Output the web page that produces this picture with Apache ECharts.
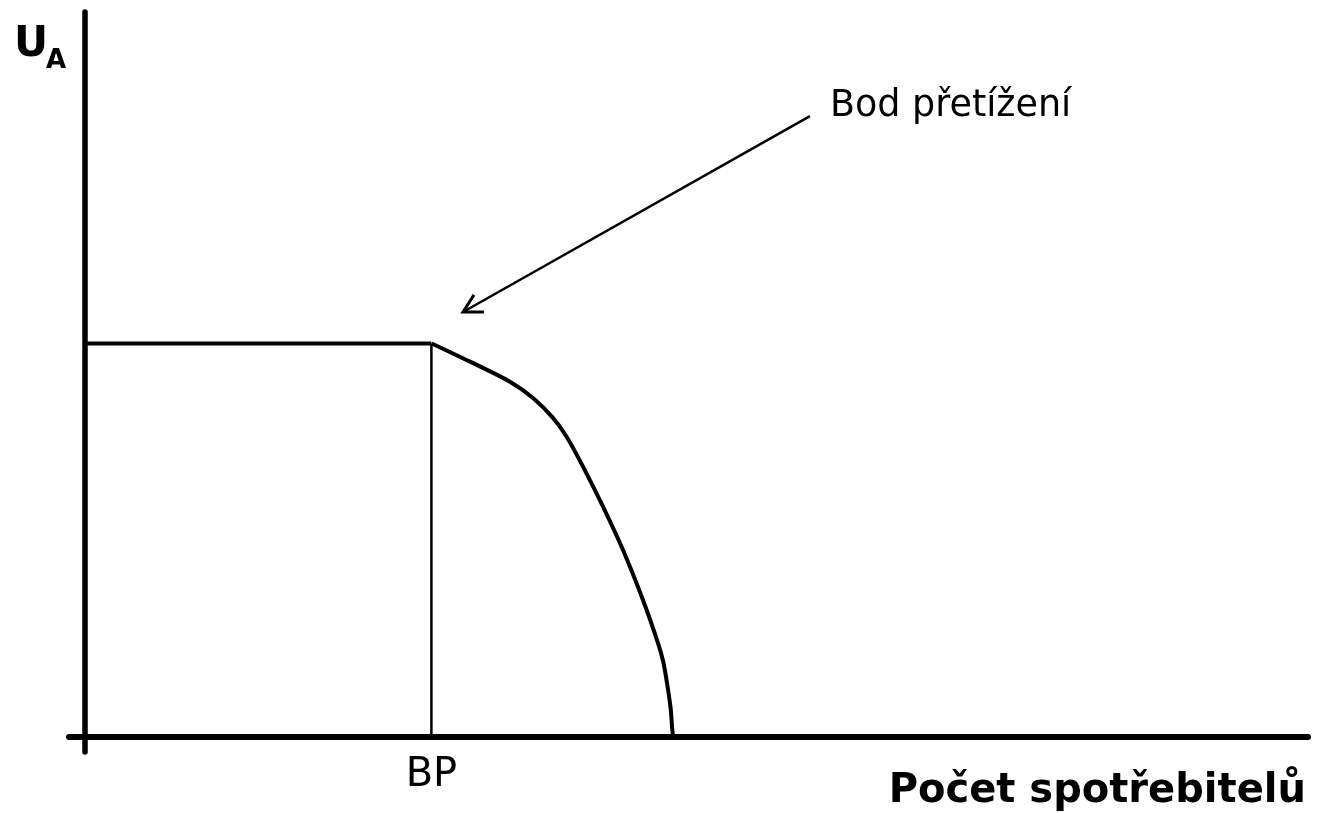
<!DOCTYPE html>
<html>
<head>
<meta charset="utf-8">
<script src="https://cdn.jsdelivr.net/npm/echarts@6/dist/echarts.min.js"></script>
<style>
  html, body { margin: 0; padding: 0; background: #fff; }
  #chart { width: 1318px; height: 813px; }
</style>
</head>
<body>
<div id="chart"></div>
<script>
// utility stays flat until the overload point (BP), then falls off
const bpX = 22.4
const plateauY = 25.5
const plateau = [[0, plateauY], [bpX, plateauY]]
const bpLine = [[bpX, 0], [bpX, plateauY]]
const curveX = [22.42, 24.89, 27.47, 28.96, 30.25, 31.13, 32.19, 33.48, 34.77, 36.06, 37.03, 37.36, 37.64, 37.85, 37.94, 38.0]
const curveY = [25.5, 24.32, 23.02, 21.96, 20.67, 19.45, 17.51, 14.91, 12.1, 8.86, 6.07, 4.9, 3.3, 1.8, 0.6, 0]
const arrowShaft = [[24.44, 27.54], [46.84, 40.25]]
const arrowHead = [[25.15, 28.65], [24.44, 27.54], [25.79, 27.54]]
const bpLabel = [[bpX, 0, 'BP']]
const overloadLabel = [[46.84, 40.25, 'Bod přetížení']]

const font = 'DejaVu Sans'
const chart = echarts.init(document.getElementById('chart'))

const lineBase = {
  type: 'line',
  symbol: 'none',
  silent: true,
  z: 3,
}

const labelBase = {
  type: 'scatter',
  symbolSize: 0,
  silent: true,
  itemStyle: { opacity: 1 },
  z: 4,
}

chart.setOption({
  animation: false,
  grid: { left: 69, right: 10, top: 12, bottom: 61 },
  xAxis: {
    type: 'value',
    min: -1,
    max: 79,
    axisLine: { onZero: true, lineStyle: { color: '#000', width: 6 } },
    axisTick: { show: false },
    axisLabel: { show: false },
    splitLine: { show: false },
  },
  yAxis: {
    type: 'value',
    min: -1,
    max: 47,
    axisLine: { onZero: true, lineStyle: { color: '#000', width: 5.5 } },
    axisTick: { show: false },
    axisLabel: { show: false },
    splitLine: { show: false },
  },
  graphic: [
    {
      type: 'text',
      left: 14,
      top: 24,
      style: { text: 'U', font: `bold 42px "${font}"`, fill: '#000' },
    },
    {
      type: 'text',
      left: 46,
      top: 48,
      style: { text: 'A', font: `bold 26px "${font}"`, fill: '#000' },
    },
    {
      type: 'text',
      right: 12,
      top: 772,
      style: { text: 'Počet spotřebitelů', font: `bold 40px "${font}"`, fill: '#000' },
    },
  ],
  series: [
    { ...lineBase, data: plateau, lineStyle: { color: '#000', width: 4 } },
    { ...lineBase, data: bpLine, lineStyle: { color: '#000', width: 2.5 } },
    {
      ...lineBase,
      data: curveX.map((x, i) => [x, curveY[i]]),
      smooth: 0.3,
      lineStyle: { color: '#000', width: 4 },
    },
    { ...lineBase, data: arrowShaft, lineStyle: { color: '#000', width: 2.5 } },
    { ...lineBase, data: arrowHead, lineStyle: { color: '#000', width: 3, join: 'miter' } },
    {
      ...labelBase,
      data: bpLabel,
      label: {
        show: true,
        position: 'bottom',
        distance: 19,
        formatter: (p) => p.value[2],
        fontFamily: font,
        fontSize: 40,
        color: '#000',
      },
    },
    {
      ...labelBase,
      data: overloadLabel,
      label: {
        show: true,
        position: 'right',
        distance: 20,
        offset: [0, -10],
        formatter: (p) => p.value[2],
        fontFamily: font,
        fontSize: 36.5,
        color: '#000',
      },
    },
  ],
})
</script>
</body>
</html>
